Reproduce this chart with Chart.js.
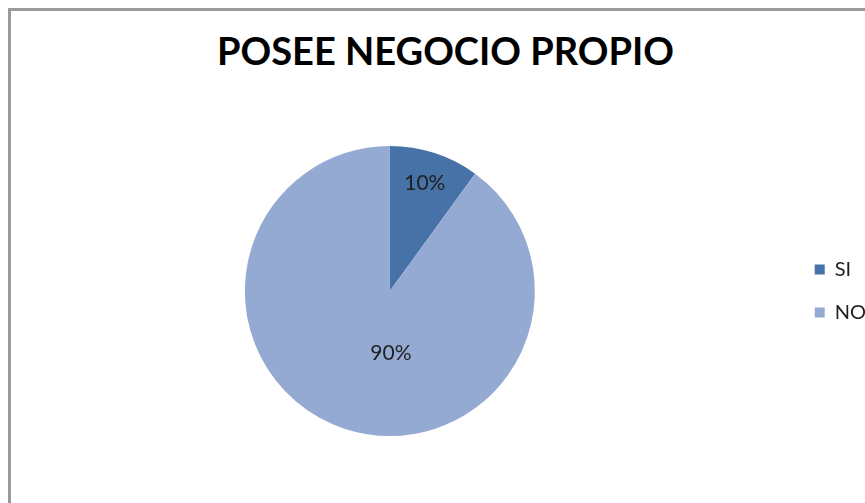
<!DOCTYPE html>
<html>
<head>
<meta charset="utf-8">
<title>Posee negocio propio</title>
<script src="https://cdn.jsdelivr.net/npm/chart.js@4.4.1/dist/chart.umd.min.js"></script>
<style>
  html, body { margin: 0; padding: 0; background: #fff; overflow: hidden; }
  body { width: 865px; height: 503px; position: relative; }
  .frame {
    position: absolute; left: 8px; top: 8px; width: 1000px; height: 1000px;
    border-left: 3px solid #9a9a9a; border-top: 3px solid #9a9a9a;
  }
  .chart-title {
    position: absolute; left: 0; top: 31px; width: 891px; text-align: center;
    font: bold 38px/38px Lato, sans-serif; color: #000; margin: 0;
  }
  #pieChart { position: absolute; left: -12px; top: 0; }
</style>
</head>
<body>
<div class="frame"></div>
<h1 class="chart-title">POSEE NEGOCIO PROPIO</h1>
<canvas id="pieChart" width="888" height="503"></canvas>
<script>
/* =======================
   DATA
======================= */
const categories = ['SI', 'NO'];
const percentages = [10, 90];
const sliceColors = ['#4672A8', '#94AAD3'];

// where each % label sits: fraction of the radius and an angular nudge (deg)
const labelRadius = [0.78, 0.43];
const labelNudge = [0, -19];

/* =======================
   SLICE LABELS
======================= */
const sliceLabels = {
  id: 'sliceLabels',
  afterDatasetsDraw(chart) {
    const ctx = chart.ctx;
    const meta = chart.getDatasetMeta(0);
    ctx.save();
    ctx.font = '21px Lato, sans-serif';
    ctx.fillStyle = '#1f1f1f';
    ctx.textAlign = 'center';
    ctx.textBaseline = 'middle';
    meta.data.forEach((arc, i) => {
      const {x, y, startAngle, endAngle, outerRadius} = arc.getProps(['x','y','startAngle','endAngle','outerRadius'], true);
      const mid = (startAngle + endAngle) / 2 + labelNudge[i] * Math.PI / 180;
      const r = outerRadius * labelRadius[i];
      ctx.fillText(percentages[i] + '%', x + Math.cos(mid) * r, y + Math.sin(mid) * r);
    });
    ctx.restore();
  }
};

/* =======================
   PIE CHART
======================= */
const ctx = document.getElementById('pieChart').getContext('2d');
window.pieChart = new Chart(ctx, {
  type: 'pie',
  data: {
    labels: categories,
    datasets: [{
      data: percentages,
      backgroundColor: sliceColors,
      borderWidth: 0
    }]
  },
  options: {
    responsive: false,
    animation: false,
    layout: { padding: { left: 0, right: 0, top: 146, bottom: 67 } },
    plugins: {
      title: { display: false },
      tooltip: { enabled: false },
      legend: {
        position: 'right',
        align: 'center',
        labels: {
          boxWidth: 10,
          boxHeight: 10,
          padding: 23,
          color: '#1f1f1f',
          font: { family: 'Lato, sans-serif', size: 20 }
        }
      }
    }
  },
  plugins: [sliceLabels]
});
</script>
</body>
</html>
